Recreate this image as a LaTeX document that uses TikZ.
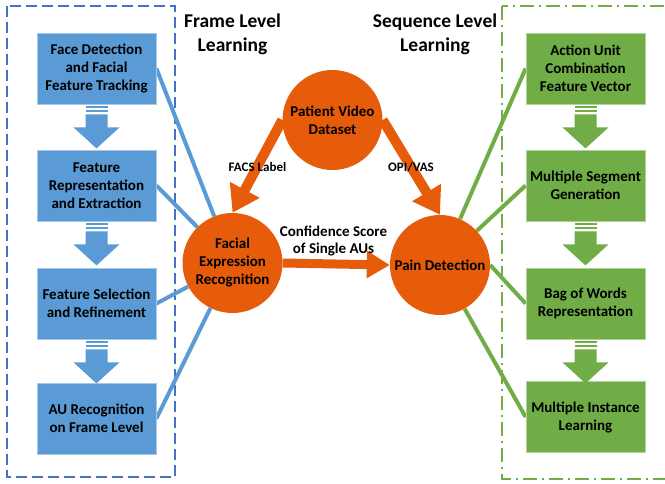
\documentclass[tikz,border=0pt]{standalone}
\usepackage{fontspec}
\setmainfont{Carlito}
\usetikzlibrary{arrows.meta,backgrounds,calc}
\definecolor{bbox}{HTML}{5B9BD5}
\definecolor{bdash}{HTML}{4472C4}
\definecolor{gbox}{HTML}{70AD47}
\definecolor{orng}{HTML}{E65C0A}
\tikzset{
  stage/.style={rectangle, minimum width=119pt, minimum height=71pt, inner sep=0pt,
    align=center, font=\bfseries\fontsize{15}{18}\selectfont, text=black,
    draw=white!45!#1, line width=0.8pt, fill=#1},
  hub/.style={circle, fill=orng, minimum size=100pt, inner sep=0pt, align=center,
    font=\bfseries\fontsize{15}{18}\selectfont, text=black},
  title/.style={align=center, font=\bfseries\fontsize{19.5}{24}\selectfont},
  elabel/.style={align=center, font=\bfseries\fontsize{13}{17}\selectfont},
  clabel/.style={align=center, font=\bfseries\fontsize{15}{17}\selectfont},
  link/.style={line width=4pt},
  flow/.style={orng, line width=10pt, -{Triangle[width=32pt,length=26pt]}},
  hflow/.style={orng, line width=9pt, -{Triangle[width=26pt,length=23pt]}},
  sarrow/.pic={
    \fill (-11,2) rectangle (11,4);
    \fill (-11,6) rectangle (11,8);
    \fill (-11,10) -- (11,10) -- (11,23) -- (23,23) -- (0,44) -- (-23,23) -- (-11,23) -- cycle;
  }
}
\begin{document}
\begin{tikzpicture}[x=1pt,y=-1pt]
\useasboundingbox (0,0) rectangle (665,483);
% blue stages
\node[stage=bbox] (b1) at (96.5,68.5) {Face Detection\\and Facial\\Feature Tracking};
\node[stage=bbox] (b2) at (96.5,185.5) {Feature\\Representation\\and Extraction};
\node[stage=bbox] (b3) at (96.5,303.5) {Feature Selection\\and Refinement};
\node[stage=bbox] (b4) at (96.5,418.5) {AU Recognition\\on Frame Level};
% green stages
\node[stage=gbox] (g1) at (585.5,68.5) {Action Unit\\Combination\\Feature Vector};
\node[stage=gbox] (g2) at (585.5,185.5) {Multiple Segment\\Generation};
\node[stage=gbox] (g3) at (585.5,303.5) {Bag of Words\\Representation};
\node[stage=gbox] (g4) at (585.5,417) {Multiple Instance\\Learning};
% striped arrows
\pic[fill=bbox] at (b1.south) {sarrow};
\pic[fill=bbox] at (b2.south) {sarrow};
\pic[fill=bbox] at (b3.south) {sarrow};
\pic[fill=gbox] at (g1.south) {sarrow};
\pic[fill=gbox] at (g2.south) {sarrow};
\pic[fill=gbox] at (g3.south) {sarrow};
% hubs
\node[hub] (pvd) at (332.5,120) {Patient Video\\Dataset};
\node[hub] (fer) at (232.5,263) {Facial\\Expression\\Recognition};
\node[hub] (pain) at (440,265) {Pain Detection};
% titles
\node[title] (t1) at (232.5,34) {Frame Level\\Learning};
\node[title] (t2) at (435,34) {Sequence Level\\Learning};
% edge labels
\node[elabel] (l1) at (257.5,167) {FACS Label};
\node[elabel] (l2) at (411,167) {OPI/VAS};
\node[clabel] (l3) at (333.5,240.5) {Confidence Score\\of Single AUs};
\begin{scope}[on background layer]
  \coordinate (btl) at (7,6);
  \coordinate (bbr) at (175,477);
  \coordinate (gtl) at (502,6);
  \coordinate (gbr) at (669,479);
  \draw[bdash, line width=2pt, dash pattern=on 11pt off 5pt] (btl) rectangle (bbr);
  \draw[gbox, line width=2pt, dash pattern=on 14pt off 5pt on 2pt off 5pt] (gtl) rectangle (gbr);
  \draw[link, bbox] (b1.east) -- (fer);
  \draw[link, bbox] (b2.east) -- (fer);
  \draw[link, bbox] (b3.east) -- (fer);
  \draw[link, bbox] (b4.east) -- (fer);
  \draw[link, gbox] (g1.west) -- (pain);
  \draw[link, gbox] (g2.west) -- (pain);
  \draw[link, gbox] (g3.west) -- (pain.east);
  \draw[link, gbox] (g4.west) -- (pain);
  \draw[flow] (pvd.west) -- (fer.north);
  \draw[flow] (pvd.east) -- (pain.north);
  \draw[hflow] (fer.east) -- (pain.west);
\end{scope}
\end{tikzpicture}
\end{document}
